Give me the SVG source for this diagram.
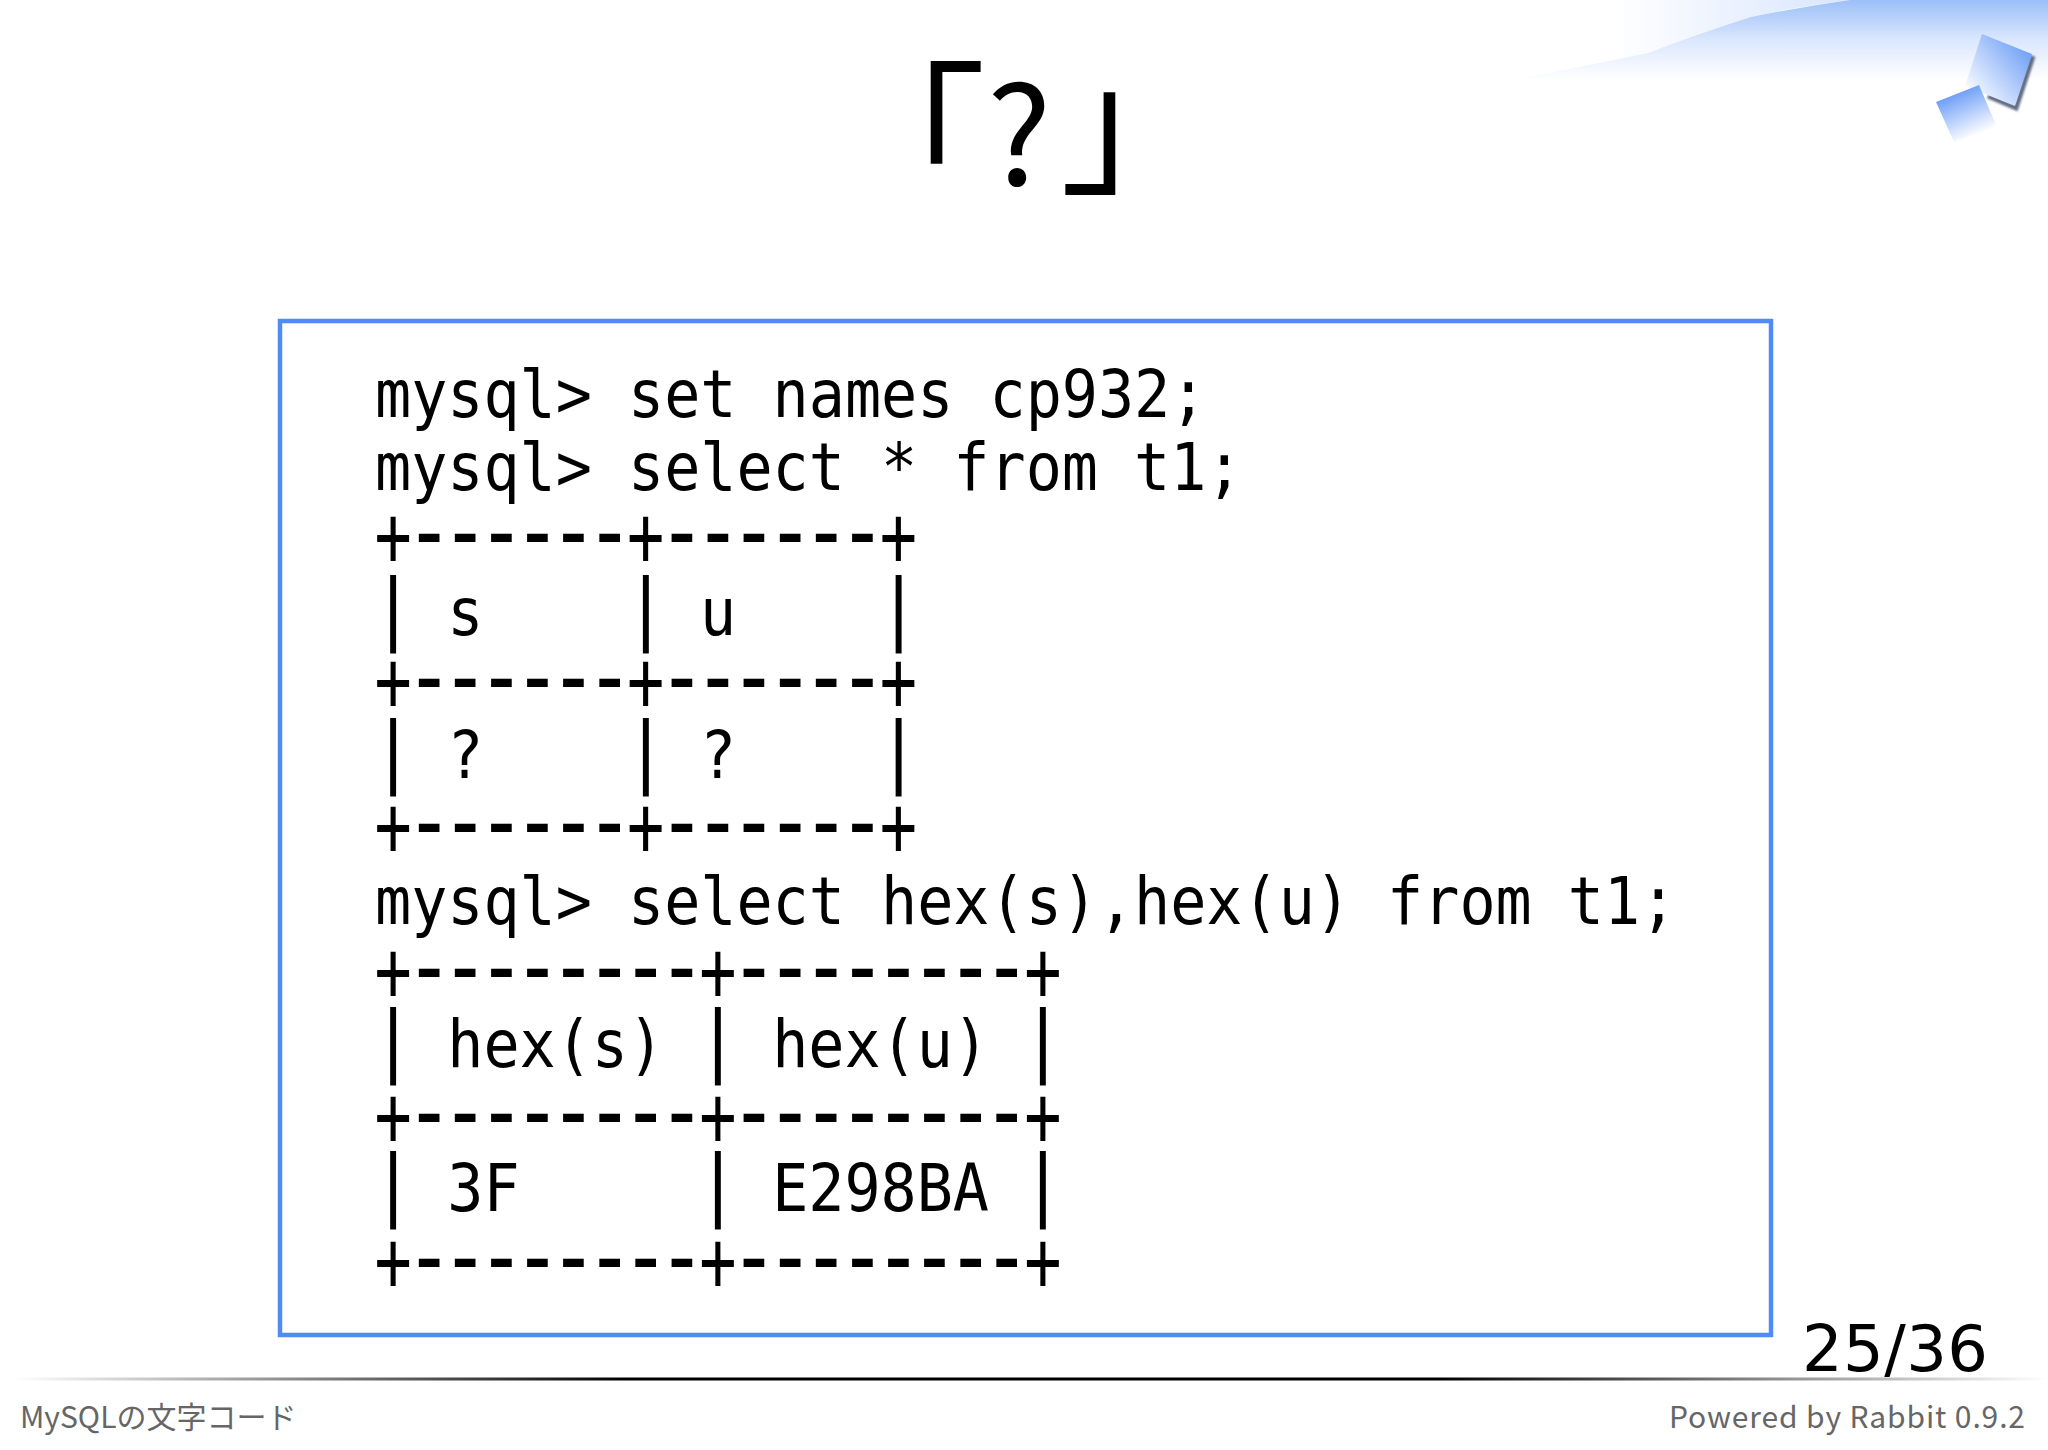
<svg xmlns="http://www.w3.org/2000/svg" width="2048" height="1450" viewBox="0 0 2048 1450">
<style>
.c{font-family:"DejaVu Sans Mono","Liberation Mono",monospace;font-size:66px;fill:#000;white-space:pre}
.b{font-size:86px}
.p{font-size:78px}
.h{font-family:"Liberation Mono",monospace;font-size:105px}
.f{font-family:"Noto Sans CJK JP","Noto Sans",sans-serif;font-size:30px;fill:#666}
</style>
<defs>
<linearGradient id="sw" x1="0" y1="0" x2="0" y2="1"><stop offset="0" stop-color="#9cbff8"/><stop offset=".5" stop-color="#dbe7fd"/><stop offset="1" stop-color="#fff"/></linearGradient>
<linearGradient id="sw2" x1="0" y1="0" x2="1" y2="0"><stop offset="0" stop-color="#fff"/><stop offset="1" stop-color="#d8e5fd"/></linearGradient>
<linearGradient id="q1" gradientUnits="userSpaceOnUse" x1="2030" y1="50" x2="1972" y2="100"><stop offset="0" stop-color="#6f9ff7"/><stop offset="1" stop-color="#fff"/></linearGradient>
<linearGradient id="q2" gradientUnits="userSpaceOnUse" x1="1957" y1="93" x2="1976" y2="136"><stop offset="0" stop-color="#6f9ff7"/><stop offset="1" stop-color="#fff"/></linearGradient>
<linearGradient id="ln" x1="0" y1="0" x2="1" y2="0"><stop offset="0" stop-color="#000" stop-opacity="0"/><stop offset=".3" stop-color="#000"/><stop offset=".7" stop-color="#000"/><stop offset="1" stop-color="#000" stop-opacity="0"/></linearGradient>
<filter id="bl" x="-20%" y="-20%" width="140%" height="140%"><feGaussianBlur stdDeviation="0.9"/></filter>
</defs>
<rect width="2048" height="1450" fill="#fff"/>
<path d="M1615 0H1850Q1790 8 1751 17Q1700 33 1648 53Q1610 60 1615 60Z" fill="url(#sw2)"/>
<path d="M1512 80Q1590 65 1648 53Q1700 33 1751 17Q1800 7 1850 0H2048V80Z" fill="url(#sw)"/>
<path d="M2033 56L2016 108L1988 96" fill="none" stroke="#5f6c82" stroke-width="5" filter="url(#bl)"/>
<path d="M1982 34L2032 54L2015 106L1965 86Z" fill="url(#q1)"/>
<path d="M1936 102L1979 85L1997 127L1954 142Z" fill="url(#q2)"/>
<text font-family="'Noto Sans CJK JP',sans-serif" fill="#000"><tspan font-size="158" x="828" y="195">「</tspan><tspan font-size="136" x="987" y="185">?</tspan><tspan font-size="158" x="1060" y="181">」</tspan></text>
<rect x="280" y="321" width="1491" height="1014" fill="none" stroke="#4f8bf5" stroke-width="4.5"/>
<g transform="translate(375,0) scale(.91,1)">
<text class="c" y="417">mysql&gt; set names cp932;</text>
<text class="c" y="490">mysql&gt; select * from t1;</text>
<text class="c" y="635"><tspan class="p" x="-3.6">|</tspan><tspan x="39.67"> s     </tspan><tspan class="p" x="274.1">|</tspan><tspan x="317.4"> u     </tspan><tspan class="p" x="551.8">|</tspan></text>
<text class="c" y="778"><tspan class="p" x="-3.6">|</tspan><tspan x="39.67"> ?     </tspan><tspan class="p" x="274.1">|</tspan><tspan x="317.4"> ?     </tspan><tspan class="p" x="551.8">|</tspan></text>
<text class="c" y="924">mysql&gt; select hex(s),hex(u) from t1;</text>
<text class="c" y="1067"><tspan class="p" x="-3.6">|</tspan><tspan x="39.67"> hex(s) </tspan><tspan class="p" x="353.4">|</tspan><tspan x="396.7"> hex(u) </tspan><tspan class="p" x="710.5">|</tspan></text>
<text class="c" y="1211"><tspan class="p" x="-3.6">|</tspan><tspan x="39.67"> 3F     </tspan><tspan class="p" x="353.4">|</tspan><tspan x="396.7"> E298BA </tspan><tspan class="p" x="710.5">|</tspan></text>
</g>
<g>
<text class="c b" transform="translate(375,566) scale(.72,1)" x="-.83 43.71 93.85 143.99 194.13 244.27 294.41 350.15 394.69 444.83 494.97 545.11 595.25 645.4 701.13">+<tspan class="h">------</tspan>+<tspan class="h">------</tspan>+</text>
<text class="c b" transform="translate(375,711) scale(.72,1)" x="-.83 43.71 93.85 143.99 194.13 244.27 294.41 350.15 394.69 444.83 494.97 545.11 595.25 645.4 701.13">+<tspan class="h">------</tspan>+<tspan class="h">------</tspan>+</text>
<text class="c b" transform="translate(375,856) scale(.72,1)" x="-.83 43.71 93.85 143.99 194.13 244.27 294.41 350.15 394.69 444.83 494.97 545.11 595.25 645.4 701.13">+<tspan class="h">------</tspan>+<tspan class="h">------</tspan>+</text>
<text class="c b" transform="translate(375,1001) scale(.72,1)" x="-.83 43.71 93.85 143.99 194.13 244.27 294.41 344.55 394.69 450.43 494.97 545.11 595.25 645.4 695.53 745.67 795.81 845.95 901.69">+<tspan class="h">--------</tspan>+<tspan class="h">--------</tspan>+</text>
<text class="c b" transform="translate(375,1146) scale(.72,1)" x="-.83 43.71 93.85 143.99 194.13 244.27 294.41 344.55 394.69 450.43 494.97 545.11 595.25 645.4 695.53 745.67 795.81 845.95 901.69">+<tspan class="h">--------</tspan>+<tspan class="h">--------</tspan>+</text>
<text class="c b" transform="translate(375,1291) scale(.72,1)" x="-.83 43.71 93.85 143.99 194.13 244.27 294.41 344.55 394.69 450.43 494.97 545.11 595.25 645.4 695.53 745.67 795.81 845.95 901.69">+<tspan class="h">--------</tspan>+<tspan class="h">--------</tspan>+</text>
</g>
<text x="1802" y="1371" font-family="'DejaVu Sans',sans-serif" font-size="64" fill="#000" textLength="186">25/36</text>
<rect x="15" y="1377.5" width="2033" height="3" fill="url(#ln)"/>
<text class="f" x="20" y="1428">MySQLの文字コード</text>
<text class="f" x="1669" y="1428" textLength="356">Powered by Rabbit 0.9.2</text>
</svg>
